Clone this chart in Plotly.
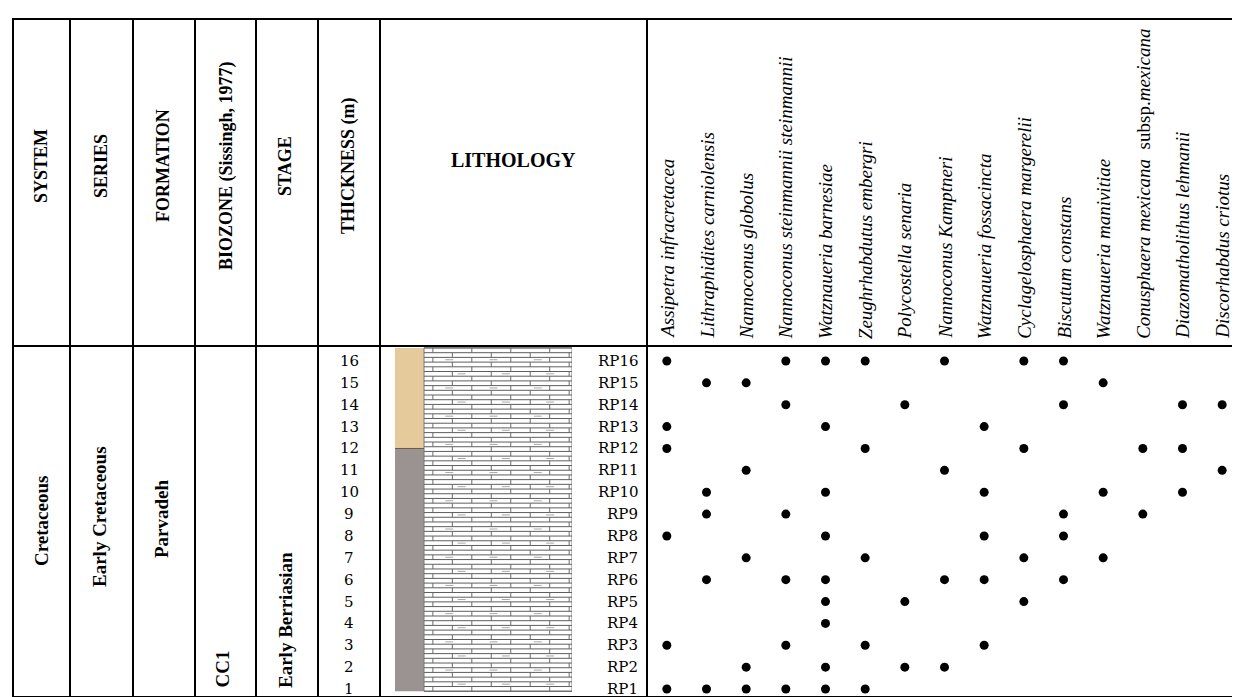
import plotly.graph_objects as go
import numpy as np

# ---------------- data ----------------
samples = [f"RP{i}" for i in range(1, 17)]
thickness = list(range(1, 17))
species = [
    "Assipetra infracretacea",
    "Lithraphidites carniolensis",
    "Nannoconus globolus",
    "Nannoconus steinmannii steinmannii",
    "Watznaueria barnesiae",
    "Zeughrhabdutus embergri",
    "Polycostella senaria",
    "Nannoconus Kamptneri",
    "Watznaueria fossacincta",
    "Cyclagelosphaera margerelii",
    "Biscutum constans",
    "Watznaueria manivitiae",
    "Conusphaera mexicana  </i>subsp.<i>mexicana",
    "Diazomatholithus lehmanii",
    "Discorhabdus criotus",
]
# occurrences: sample -> species numbers (1-based)
occurrences = {
    "RP16": [1, 4, 5, 6, 8, 10, 11],
    "RP15": [2, 3, 12],
    "RP14": [4, 7, 11, 14, 15],
    "RP13": [1, 5, 9],
    "RP12": [1, 6, 10, 13, 14],
    "RP11": [3, 8, 15],
    "RP10": [2, 5, 9, 12, 14],
    "RP9": [2, 4, 11, 13],
    "RP8": [1, 5, 9, 11],
    "RP7": [3, 6, 10, 12],
    "RP6": [2, 4, 5, 8, 9, 11],
    "RP5": [5, 7, 10],
    "RP4": [5],
    "RP3": [1, 4, 6, 9],
    "RP2": [3, 5, 7, 8],
    "RP1": [1, 2, 3, 4, 5, 6],
}
header_cols = ["SYSTEM", "SERIES", "FORMATION", "BIOZONE (Sissingh, 1977)", "STAGE", "THICKNESS (m)"]
system_name = "Cretaceous"
series_name = "Early Cretaceous"
formation_name = "Parvadeh"
biozone_name = "CC1"
stage_name = "Early Berriasian"
lith_boundary = 12.0  # change of strip colour (tan above, grey below)

# ---------------- layout helpers ----------------
W, H = 1240, 697
def X(p): return p / W
def Y(p): return 1 - p / H

top, hdr, bot = 11, 338, 689
left, right = 5, 1234
vlines = [62, 125, 187, 248, 310, 372, 639]
y_lo, y_hi = 0.636, 16.686
lith_top, lith_bot = 16.6, 0.9
serif = "Liberation Serif"

fig = go.Figure()

# occurrence dots
xs, ys = [], []
for s, t in zip(samples, thickness):
    for sp in occurrences[s]:
        xs.append(sp - 1)
        ys.append(t)
fig.add_trace(go.Scatter(x=xs, y=ys, mode="markers",
                         marker=dict(color="black", size=9, symbol="circle"),
                         hoverinfo="skip", showlegend=False, xaxis="x", yaxis="y"))

# lithology pattern (decorative limestone bricks)
strip_w = 0.164
hx, hy, vx, vy, tx, ty = [], [], [], [], [], []
step = 0.215
yy, k = lith_bot, 0
while yy < lith_top - 1e-6:
    y2 = min(yy + step, lith_top)
    hx += [strip_w, 1, None]; hy += [yy, yy, None]
    off = 0.0 if k % 2 == 0 else 0.11
    xpos = strip_w + 0.05 + off
    while xpos < 0.99:
        vx += [xpos, xpos, None]; vy += [yy, y2, None]
        xpos += 0.22
    if k % 3 == 1:
        xt = strip_w + 0.12 + (0.07 if k % 2 else 0)
        while xt < 0.95:
            tx += [xt, xt + 0.045, None]; ty += [yy + step * 0.5, yy + step * 0.5, None]
            xt += 0.25
    yy += step
    k += 1
fig.add_trace(go.Scatter(x=hx, y=hy, mode="lines", line=dict(color="#5e5e5e", width=1),
                         hoverinfo="skip", showlegend=False, xaxis="x2", yaxis="y"))
fig.add_trace(go.Scatter(x=vx, y=vy, mode="lines", line=dict(color="#6a6a6a", width=1),
                         hoverinfo="skip", showlegend=False, xaxis="x2", yaxis="y"))
fig.add_trace(go.Scatter(x=tx, y=ty, mode="lines", line=dict(color="#a8a8a8", width=1),
                         hoverinfo="skip", showlegend=False, xaxis="x2", yaxis="y"))

shapes = []
shapes.append(dict(type="rect", xref="x2", yref="y", x0=0, x1=strip_w, y0=lith_boundary, y1=lith_top,
                   fillcolor="#e5cb9c", line=dict(width=0), layer="below"))
shapes.append(dict(type="rect", xref="x2", yref="y", x0=0, x1=strip_w, y0=lith_bot, y1=lith_boundary,
                   fillcolor="#9a9391", line=dict(width=0), layer="below"))
shapes.append(dict(type="rect", xref="x2", yref="y", x0=strip_w, x1=1, y0=lith_bot, y1=lith_top,
                   fillcolor="white", line=dict(color="#7a7a7a", width=1), layer="below"))
shapes.append(dict(type="line", xref="x2", yref="y", x0=0, x1=strip_w, y0=lith_boundary, y1=lith_boundary,
                   line=dict(color="#6a5a4a", width=1)))

# table frame
lc = dict(color="black", width=2)
shapes.append(dict(type="rect", xref="paper", yref="paper", x0=X(left), x1=X(right), y0=Y(bot), y1=Y(top), line=lc))
shapes.append(dict(type="line", xref="paper", yref="paper", x0=X(left), x1=X(right), y0=Y(hdr), y1=Y(hdr), line=lc))
for v in vlines:
    shapes.append(dict(type="line", xref="paper", yref="paper", x0=X(v), x1=X(v), y0=Y(bot), y1=Y(top), line=lc))

ann = []
col_centers = [33, 93, 155, 218, 277, 340]
for name, cx in zip(header_cols, col_centers):
    ann.append(dict(text=f"<b>{name}</b>", x=X(cx), y=Y(158), xref="paper", yref="paper",
                    textangle=-90, showarrow=False, xanchor="center", yanchor="middle",
                    font=dict(family=serif, size=18, color="black")))
ann.append(dict(text="<b>LITHOLOGY</b>", x=X(505), y=Y(152), xref="paper", yref="paper",
                showarrow=False, xanchor="center", yanchor="middle",
                font=dict(family=serif, size=20, color="black")))
for i, sp in enumerate(species):
    ann.append(dict(text=f"<i>{sp}</i>", x=i, y=Y(333), xref="x", yref="paper",
                    textangle=-90, showarrow=False, xanchor="center", yanchor="bottom",
                    font=dict(family=serif, size=19, color="black")))
for txt, cx, cy, ya in [(system_name, 33, 513, "middle"), (series_name, 92, 509, "middle"),
                        (formation_name, 153, 511, "middle"), (biozone_name, 214, 682, "bottom"),
                        (stage_name, 277, 682, "bottom")]:
    ann.append(dict(text=f"<b>{txt}</b>", x=X(cx), y=Y(cy), xref="paper", yref="paper",
                    textangle=-90, showarrow=False, xanchor="center", yanchor=ya,
                    font=dict(family=serif, size=19, color="black")))
for s, t in zip(samples, thickness):
    ann.append(dict(text=str(t), x=X(341), y=t, xref="paper", yref="y", showarrow=False,
                    xanchor="center", yanchor="middle", font=dict(family="DejaVu Serif", size=15, color="black")))
    ann.append(dict(text=s, x=X(632), y=t, xref="paper", yref="y", showarrow=False,
                    xanchor="right", yanchor="middle", font=dict(family="DejaVu Serif", size=15, color="black")))

fig.update_layout(
    width=W, height=H, margin=dict(l=0, r=0, t=0, b=0),
    paper_bgcolor="white", plot_bgcolor="rgba(0,0,0,0)",
    xaxis=dict(domain=[X(639), X(1234)], range=[-0.5, 14.5], visible=False, fixedrange=True),
    xaxis2=dict(domain=[X(387), X(564)], range=[0, 1], visible=False, anchor="y", fixedrange=True),
    yaxis=dict(domain=[Y(bot), Y(hdr)], range=[y_lo, y_hi], visible=False, fixedrange=True),
    shapes=shapes, annotations=ann, showlegend=False,
)
fig.write_html("out.html")
